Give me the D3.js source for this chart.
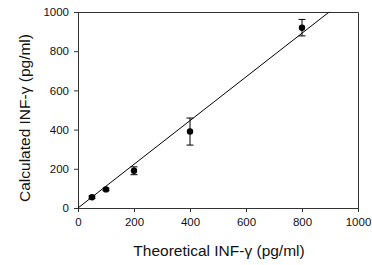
<!DOCTYPE html>
<html>
<head>
<meta charset="utf-8">
<script src="https://cdn.jsdelivr.net/npm/d3@7"></script>
<style>
  body { margin: 0; background: #fff; }
  text { font-family: "Liberation Sans", Arial, sans-serif; }
</style>
</head>
<body>
<div id="chart"></div>
<script>
var theoretical = [50, 100, 200, 400, 800];
var calculated = [55, 95, 190, 390, 920];
var errors = [6, 6, 20, 69, 42];
var xTicks = [0, 200, 400, 600, 800, 1000];
var yTicks = [0, 200, 400, 600, 800, 1000];
// fitted line end points (data units)
var fitX = [0, 897];
var fitY = [0, 1000];

var margin = { top: 12, right: 14, bottom: 57, left: 78 };
var width = 372 - margin.left - margin.right;
var height = 265 - margin.top - margin.bottom;

var svg = d3.select("#chart")
    .append("svg")
    .attr("width", 372)
    .attr("height", 265)
    .append("g")
    .attr("transform", "translate(" + margin.left + "," + margin.top + ")");

var x = d3.scaleLinear().domain([0, 1000]).range([0, width]);
var y = d3.scaleLinear().domain([0, 1000]).range([height, 0]);

// frame (top and right)
svg.append("path")
    .attr("d", "M0,0.5H" + (width + 0.5) + "V" + height)
    .attr("fill", "none")
    .attr("stroke", "#333")
    .attr("stroke-width", 1);

var xAxis = svg.append("g")
    .attr("transform", "translate(0," + height + ")")
    .call(d3.axisBottom(x).tickValues(xTicks).tickFormat(d3.format("d")).tickSize(4).tickPadding(6));
var yAxis = svg.append("g")
    .call(d3.axisLeft(y).tickValues(yTicks).tickFormat(d3.format("d")).tickSize(4).tickPadding(5));

[xAxis, yAxis].forEach(function(a) {
    a.selectAll("path, line").attr("stroke", "#333");
    a.selectAll("text").attr("fill", "#111").style("font-size", "11.5px")
        .style("font-family", "'Liberation Sans', Arial, sans-serif");
});

// fit line
svg.append("path")
    .datum(d3.zip(fitX, fitY))
    .attr("fill", "none")
    .attr("stroke", "#000")
    .attr("stroke-width", 1)
    .attr("d", d3.line()
        .x(function(d) { return x(d[0]); })
        .y(function(d) { return y(d[1]); }));

var pts = theoretical.map(function(t, i) {
    return { x: t, y: calculated[i], e: errors[i] };
});

var bars = svg.append("g").selectAll("g")
    .data(pts)
    .enter()
    .append("g");

bars.append("line")
    .attr("x1", function(d) { return x(d.x); })
    .attr("x2", function(d) { return x(d.x); })
    .attr("y1", function(d) { return y(d.y - d.e); })
    .attr("y2", function(d) { return y(d.y + d.e); })
    .attr("stroke", "#000");

[-1, 1].forEach(function(s) {
    bars.append("line")
        .attr("x1", function(d) { return x(d.x) - 3.5; })
        .attr("x2", function(d) { return x(d.x) + 3.5; })
        .attr("y1", function(d) { return y(d.y + s * d.e); })
        .attr("y2", function(d) { return y(d.y + s * d.e); })
        .attr("stroke", "#000");
});

bars.append("circle")
    .attr("cx", function(d) { return x(d.x); })
    .attr("cy", function(d) { return y(d.y); })
    .attr("r", 3.2)
    .attr("fill", "#000");

svg.append("text")
    .attr("x", width / 2 + 1)
    .attr("y", height + 48)
    .attr("text-anchor", "middle")
    .style("font-size", "15.5px")
    .attr("fill", "#111")
    .text("Theoretical INF-γ (pg/ml)");

svg.append("text")
    .attr("transform", "translate(" + (-48) + "," + (height / 2 + 8) + ") rotate(-90)")
    .attr("text-anchor", "middle")
    .style("font-size", "15.5px")
    .attr("fill", "#111")
    .text("Calculated INF-γ (pg/ml)");
</script>
</body>
</html>
